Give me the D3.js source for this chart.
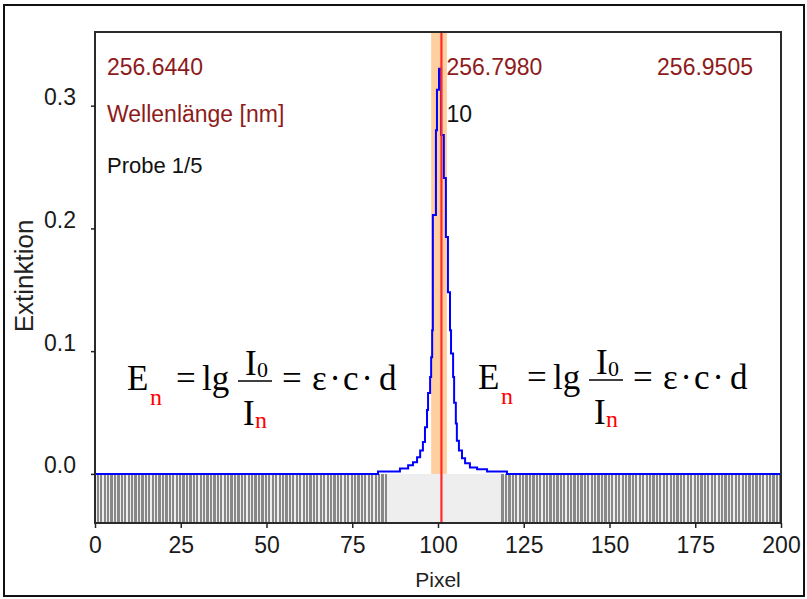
<!DOCTYPE html>
<html>
<head>
<meta charset="utf-8">
<script src="https://cdn.jsdelivr.net/npm/d3@7"></script>
<style>
  body { margin: 0; background: #fff; }
  svg { display: block; }
  text { font-family: "Liberation Sans", Arial, sans-serif; }
  .formula text { font-family: "Liberation Serif", "Times New Roman", serif; }
</style>
</head>
<body>
<svg id="chart" width="807" height="599"></svg>
<script>
// spectrum as step curve: pixel where the level changes, extinction after the change
const specPixel = [0, 82.5, 88.9, 91.3, 92.7, 93.9, 94.8, 95.6, 96.2, 96.8, 97.1, 97.7, 98.0, 98.3, 98.5,
  99.4, 99.7, 100.3, 100.9, 101.7, 102.3, 102.9, 103.5, 103.8, 104.4, 104.7, 105.2, 105.5, 106.1,
  107.0, 107.9, 109.3, 111.4, 114.3, 120.1, 200];
const specExt = [0.000, 0.002, 0.0045, 0.007, 0.0095, 0.0135, 0.019, 0.026, 0.038, 0.052, 0.066, 0.079, 0.095, 0.117, 0.211,
  0.280, 0.313, 0.330, 0.276, 0.241, 0.193, 0.148, 0.117, 0.098, 0.079, 0.058, 0.041, 0.027, 0.019,
  0.0127, 0.0086, 0.0053, 0.0037, 0.002, 0.000, 0.000];

// pixels used for the baseline correction (hatched)
const baselineRanges = [[0, 85], [119, 200]];
// integration window and peak marker
const windowPixels = [98.0, 102.6];
const markerPixel = 101;

const xTicks = [0, 25, 50, 75, 100, 125, 150, 175, 200];
const yTicks = [0.0, 0.1, 0.2, 0.3];
const wavelengthLabels = ["256.6440", "256.7980", "256.9505"];
const peakLabel = "10";
const unitLabel = "Wellenlänge [nm]";
const sampleLabel = "Probe 1/5";

const svg = d3.select("#chart");

const x = d3.scaleLinear().domain([0, 200]).range([95, 781]);
const y = d3.scaleLinear().domain([-0.04, 0.36]).range([523, 32]);

// outer frame
svg.append("rect")
  .attr("x", 4).attr("y", 5).attr("width", 800).attr("height", 591)
  .attr("fill", "#fff").attr("stroke", "#111").attr("stroke-width", 2);

// lower strip
svg.append("rect")
  .attr("x", x(0)).attr("y", y(0))
  .attr("width", x(200) - x(0)).attr("height", y(-0.04) - y(0))
  .attr("fill", "#eeeeee");

const basePix = baselineRanges.flatMap(r => d3.range(r[0], r[1] + 1));
svg.append("g").attr("shape-rendering", "crispEdges").selectAll("rect")
  .data(basePix)
  .join("rect")
  .attr("x", d => Math.max(x(0), x(d - 0.5)))
  .attr("width", d => Math.min(x(200), x(d + 0.5)) - Math.max(x(0), x(d - 0.5)) - 1.2)
  .attr("y", y(0))
  .attr("height", y(-0.04) - y(0))
  .attr("fill", "#888888");

// integration window
svg.append("rect")
  .attr("x", x(windowPixels[0])).attr("y", y(0.36))
  .attr("width", x(windowPixels[1]) - x(windowPixels[0]))
  .attr("height", y(0) - y(0.36))
  .attr("fill", "#ffcfa0");

// spectrum
const spec = specPixel.map((p, i) => ({p: p, e: specExt[i]}));
svg.append("path")
  .datum(spec)
  .attr("fill", "none")
  .attr("stroke", "#0000ff")
  .attr("stroke-width", 2)
  .attr("d", d3.line().x(d => x(d.p)).y(d => y(d.e)).curve(d3.curveStepAfter));

// marker line
svg.append("line")
  .attr("x1", x(markerPixel)).attr("x2", x(markerPixel))
  .attr("y1", y(0.36)).attr("y2", y(-0.04))
  .attr("stroke", "#ff2a2a").attr("stroke-width", 2.2);

// plot border
svg.append("rect")
  .attr("x", x(0)).attr("y", y(0.36))
  .attr("width", x(200) - x(0)).attr("height", y(-0.04) - y(0.36))
  .attr("fill", "none").attr("stroke", "#2a2a2a").attr("stroke-width", 2);

// axes
const xAxis = svg.append("g")
  .attr("transform", `translate(0,${y(-0.04)})`)
  .call(d3.axisBottom(x).tickValues(xTicks).tickSize(5));
xAxis.select(".domain").remove();
xAxis.selectAll("line").attr("stroke", "#222").attr("stroke-width", 1.5);
xAxis.selectAll("text")
  .attr("y", 30).attr("dy", 0)
  .attr("font-size", 23).attr("fill", "#1a1a1a")
  .style("font-family", "'Liberation Sans', Arial, sans-serif");

const yAxis = svg.append("g")
  .attr("transform", `translate(${x(0)},0)`)
  .call(d3.axisLeft(y).tickValues(yTicks).tickFormat(d3.format(".1f")).tickSize(4));
yAxis.select(".domain").remove();
yAxis.selectAll("line").attr("stroke", "#222").attr("stroke-width", 1.5);
yAxis.selectAll("text")
  .attr("x", -19).attr("y", -1).attr("dy", 0)
  .attr("font-size", 23).attr("fill", "#1a1a1a")
  .style("font-family", "'Liberation Sans', Arial, sans-serif");

// axis titles
svg.append("text")
  .attr("x", (x(0) + x(200)) / 2).attr("y", 587)
  .attr("text-anchor", "middle").attr("font-size", 21).attr("fill", "#222")
  .text("Pixel");
svg.append("text")
  .attr("transform", "translate(33,276) rotate(-90)")
  .attr("text-anchor", "middle").attr("font-size", 26).attr("fill", "#222")
  .text("Extinktion");

// labels inside plot
const darkRed = "#8e1b1b";
svg.append("text").attr("x", 107).attr("y", 75)
  .attr("font-size", 23).attr("fill", darkRed).text(wavelengthLabels[0]);
svg.append("text").attr("x", x(markerPixel) + 5).attr("y", 75)
  .attr("font-size", 23).attr("fill", darkRed).text(wavelengthLabels[1]);
svg.append("text").attr("x", 753).attr("y", 75).attr("text-anchor", "end")
  .attr("font-size", 23).attr("fill", darkRed).text(wavelengthLabels[2]);
svg.append("text").attr("x", 107).attr("y", 122)
  .attr("font-size", 23).attr("fill", darkRed).text(unitLabel);
svg.append("text").attr("x", x(markerPixel) + 5).attr("y", 122)
  .attr("font-size", 23).attr("fill", "#111").text(peakLabel);
svg.append("text").attr("x", 107).attr("y", 173)
  .attr("font-size", 22).attr("fill", "#111").text(sampleLabel);

// Lambert-Beer formula, drawn twice
function drawFormula(ox, oy) {
  const g = svg.append("g").attr("class", "formula").attr("transform", `translate(${ox},${oy})`);
  const put = (t, dx, dy, size, color, anchor) => g.append("text")
    .attr("x", dx).attr("y", dy).attr("font-size", size)
    .attr("fill", color || "#000").attr("text-anchor", anchor || "start").text(t);
  put("E", 0, 0, 35);
  put("n", 23, 15, 24, "#ff0000");
  put("=", 49, 0, 35);
  put("lg", 75, 0, 35);
  g.append("line").attr("x1", 111).attr("x2", 145).attr("y1", -9).attr("y2", -9)
    .attr("stroke", "#000").attr("stroke-width", 1.6);
  put("I", 118, -15, 35);
  put("0", 130, -13, 22);
  put("I", 116, 35, 35);
  put("n", 128, 38, 24, "#ff0000");
  put("=", 155, 0, 35);
  put("ε", 185, 0, 35);
  put("·", 208, 0, 35, "#000", "middle");
  put("c", 216, 0, 35);
  put("·", 240, 0, 35, "#000", "middle");
  put("d", 252, 0, 35);
}
drawFormula(127, 390);
drawFormula(478, 389);
</script>
</body>
</html>
